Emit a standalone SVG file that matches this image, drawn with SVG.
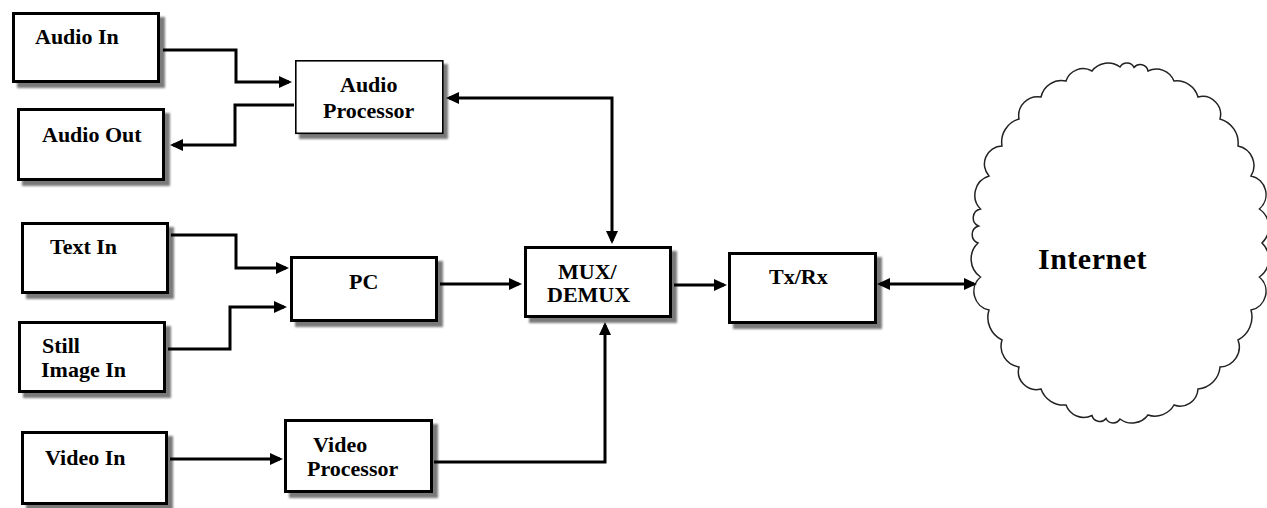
<svg xmlns="http://www.w3.org/2000/svg" width="1267" height="508" viewBox="0 0 1267 508">
<style>
.box{fill:#fff;stroke:#000;stroke-width:3}
.thin{stroke-width:1.6}
.shadow{fill:#7a7a7a;filter:url(#blur)}
.lbl{font-family:"Liberation Serif","Times New Roman",serif;font-weight:bold;font-size:22px;fill:#000}
.big{font-size:30px;letter-spacing:0.5px}
.conn{fill:none;stroke:#000;stroke-width:3;marker-end:url(#ah)}
.both{marker-start:url(#ah)}
.cloud{fill:#fff;stroke:#222;stroke-width:1.5}
</style>
<defs>
<filter id="blur" x="-10%" y="-10%" width="120%" height="120%"><feGaussianBlur stdDeviation="1"/></filter>
<marker id="ah" viewBox="0 0 13 12" refX="10" refY="6" markerWidth="13" markerHeight="12" markerUnits="userSpaceOnUse" orient="auto-start-reverse"><path d="M0,0 L13,6 L0,12 z" fill="#000"/></marker>
</defs>
<rect width="1267" height="508" fill="#fff"/>
<g id="audio-in"><rect class="shadow" x="17" y="17" width="148" height="71"/><rect class="box" x="13.5" y="13.5" width="145" height="68"/><text class="lbl" x="35" y="44">Audio In</text></g>
<g id="audio-out"><rect class="shadow" x="22" y="113" width="148" height="73"/><rect class="box" x="18.5" y="109.5" width="145" height="70"/><text class="lbl" x="42" y="142">Audio Out</text></g>
<g id="audio-processor"><rect class="shadow" x="299" y="64" width="149" height="75"/><rect class="box thin" x="295.8" y="60.8" width="147" height="72.5"/><text class="lbl" x="340" y="92">Audio</text><text class="lbl" x="323" y="118">Processor</text></g>
<g id="text-in"><rect class="shadow" x="26" y="227" width="148" height="72"/><rect class="box" x="22.5" y="223.5" width="145" height="69"/><text class="lbl" x="50" y="254">Text In</text></g>
<g id="still-image-in"><rect class="shadow" x="23" y="326" width="148" height="72"/><rect class="box" x="19.5" y="322.5" width="145" height="69"/><text class="lbl" x="42" y="353">Still</text><text class="lbl" x="41" y="377">Image In</text></g>
<g id="video-in"><rect class="shadow" x="26" y="436" width="147" height="74"/><rect class="box" x="22.5" y="432.5" width="144" height="71"/><text class="lbl" x="45" y="465">Video In</text></g>
<g id="pc"><rect class="shadow" x="295" y="261" width="148" height="66"/><rect class="box" x="291.5" y="257.5" width="145" height="63"/><text class="lbl" x="349" y="289">PC</text></g>
<g id="video-processor"><rect class="shadow" x="289" y="424" width="149" height="74"/><rect class="box" x="285.5" y="420.5" width="146" height="71"/><text class="lbl" x="313" y="452">Video</text><text class="lbl" x="307" y="476">Processor</text></g>
<g id="mux-demux"><rect class="shadow" x="529" y="251" width="148" height="72"/><rect class="box" x="525.5" y="247.5" width="145" height="69"/><text class="lbl" x="558" y="279">MUX/</text><text class="lbl" x="547" y="302">DEMUX</text></g>
<g id="tx-rx"><rect class="shadow" x="733" y="257" width="149" height="72"/><rect class="box" x="729.5" y="253.5" width="146" height="69"/><text class="lbl" x="769" y="284">Tx/Rx</text></g>
<g id="internet"><path class="cloud" d="M1262,243 A22,22 0 0 1 1259.4,277 A19,19 0 0 1 1251,310 A26,26 0 0 1 1238,340 A20,20 0 0 1 1220,367 A24,24 0 0 1 1198,389 A18,18 0 0 1 1174,405 A22,22 0 0 1 1148,415 A20,20 0 0 1 1120,419 A8,8 0 0 1 1106,418.5 A8,8 0 0 1 1092,415.5 A19,19 0 0 1 1066,405 A24,24 0 0 1 1041,389 A18,18 0 0 1 1019,367 A21,21 0 0 1 1002,340 A25,25 0 0 1 989,310 A19,19 0 0 1 980.5,277 A22,22 0 0 1 978,243 A9,9 0 0 1 978.5,226 A9,9 0 0 1 980.5,209 A20,20 0 0 1 989,176 A18,18 0 0 1 1002,146 A24,24 0 0 1 1019,119 A19,19 0 0 1 1041,97 A21,21 0 0 1 1066,81 A18,18 0 0 1 1092,71 A20,20 0 0 1 1120,67 A8,8 0 0 1 1134,67.5 A8,8 0 0 1 1148,71 A19,19 0 0 1 1174,81 A22,22 0 0 1 1198,97 A18,18 0 0 1 1220,119 A25,25 0 0 1 1238,146 A20,20 0 0 1 1251,176 A19,19 0 0 1 1259.4,209 A22,22 0 0 1 1262,243 Z"/><text class="lbl big" x="1038" y="269">Internet</text></g>
<g id="connectors">
<path class="conn" d="M163,50 H236 V82 H289"/>
<path class="conn" d="M294,105 H235 V145 H173"/>
<path class="conn" d="M171,235 H236 V268 H286"/>
<path class="conn" d="M168,349 H230 V307 H284"/>
<path class="conn" d="M170,459 H280"/>
<path class="conn" d="M440,284 H519"/>
<path class="conn both" d="M449,98 H612 V241"/>
<path class="conn" d="M434,462 H605 V325"/>
<path class="conn" d="M674,285 H724"/>
<path class="conn both" d="M880,284 H974"/>
</g>
</svg>
